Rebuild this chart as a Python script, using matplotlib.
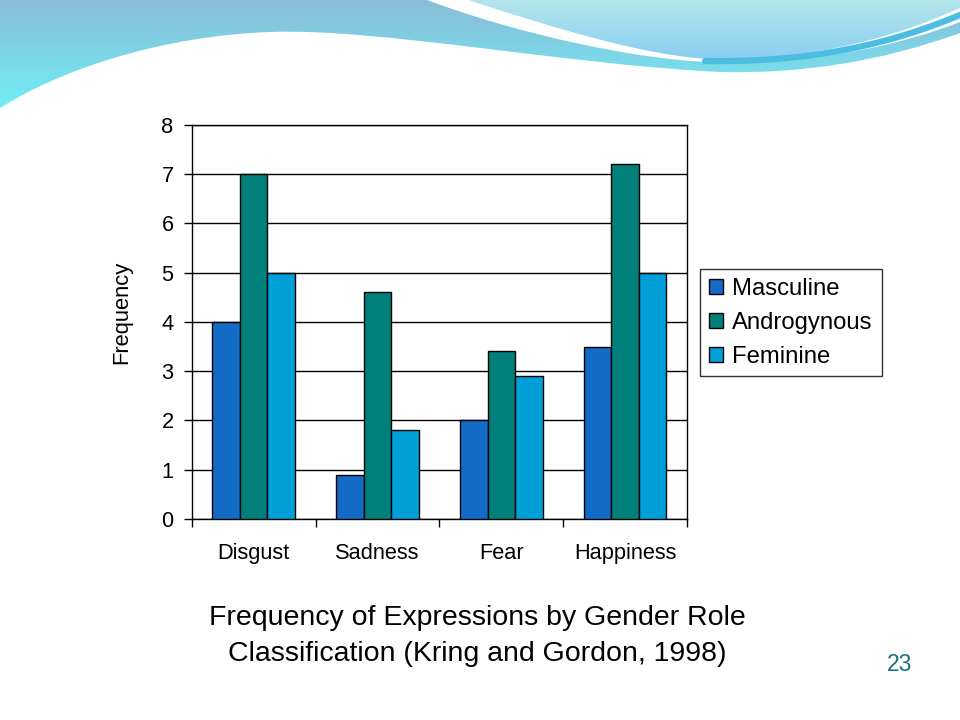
import matplotlib
matplotlib.use("Agg")
import matplotlib.pyplot as plt
import numpy as np
from matplotlib.path import Path
from matplotlib.patches import PathPatch

plt.rcParams['font.family'] = ['Liberation Sans', 'DejaVu Sans']

categories = ['Disgust', 'Sadness', 'Fear', 'Happiness']
series_names = ['Masculine', 'Androgynous', 'Feminine']
masculine = [4, 0.9, 2, 3.5]
androgynous = [7, 4.6, 3.4, 7.2]
feminine = [5, 1.8, 2.9, 5]
colors = ['#136BC6', '#007F7B', '#009FD8']

fig = plt.figure(figsize=(9.6, 7.2), dpi=100)

# decorative wave header (pixel coords)
bg = fig.add_axes([0, 0, 1, 1], zorder=-5)
bg.set_xlim(0, 960)
bg.set_ylim(720, 0)
bg.axis('off')


def grad_fill(ax, verts, codes, c_top, c_bot, y0, y1, z):
    patch = PathPatch(Path(verts, codes), facecolor='none', edgecolor='none')
    ax.add_patch(patch)
    g = np.linspace(0, 1, 256)[:, None, None]
    ct = np.array(matplotlib.colors.to_rgb(c_top))
    cb = np.array(matplotlib.colors.to_rgb(c_bot))
    img = ct * (1 - g) + cb * g
    im = ax.imshow(img, extent=[0, 960, y1, y0], aspect='auto', zorder=z)
    im.set_clip_path(patch)


C = Path.CURVE4
verts = [(0, 0), (960, 0), (960, 33),
         (880, 62), (800, 74), (720, 72),
         (560, 64), (380, 28), (270, 32),
         (160, 36), (60, 70), (0, 108),
         (0, 0)]
codes = [Path.MOVETO, Path.LINETO, Path.LINETO,
         C, C, C, C, C, C, C, C, C, Path.CLOSEPOLY]
grad_fill(bg, verts, codes, '#8ABCD7', '#70EFF7', 0, 110, 1)

verts = [(427, 0), (520, 35), (640, 60), (710, 62),
         (820, 64), (900, 45), (960, 22), (960, 0), (427, 0)]
codes = [Path.MOVETO, C, C, C, C, C, C, Path.LINETO, Path.CLOSEPOLY]
bg.add_patch(PathPatch(Path(verts, codes), facecolor='white',
                       edgecolor='none', zorder=2))

verts = [(468, 0), (560, 30), (650, 57), (712, 59),
         (820, 60), (900, 35), (960, 8), (960, 0), (468, 0)]
codes = [Path.MOVETO, C, C, C, C, C, C, Path.LINETO, Path.CLOSEPOLY]
grad_fill(bg, verts, codes, '#B3E6EC', '#8BCEF1', 0, 60, 3)

t = np.linspace(0, 1, 100)[:, None]
p0, p1, p2, p3 = [np.array(p) for p in [(705, 61), (820, 63), (900, 40), (960, 15)]]
curve = (1 - t) ** 3 * p0 + 3 * (1 - t) ** 2 * t * p1 + 3 * (1 - t) * t ** 2 * p2 + t ** 3 * p3
bg.plot(curve[:, 0], curve[:, 1], color='#4BBDE0', lw=4.5, solid_capstyle='round', zorder=4)

# chart
ax = fig.add_axes([0.1997, 0.279, 0.516, 0.548])
x = np.arange(len(categories))
w = 0.222
for i, (vals, name) in enumerate(zip([masculine, androgynous, feminine], series_names)):
    ax.bar(x + (i - 1) * w, vals, w, color=colors[i], edgecolor='black',
           linewidth=1, label=name, zorder=3)

ax.set_xlim(-0.5, len(categories) - 0.5)
ax.set_ylim(0, 8)
ax.set_yticks(range(0, 9))
ax.yaxis.grid(True, color='black', linewidth=1, zorder=0)
ax.set_xticks(x)
ax.set_xticklabels(categories, fontsize=15.7)
ax.set_xticks(np.arange(-0.5, len(categories), 1), minor=True)
ax.tick_params(axis='x', which='major', length=0, pad=17)
ax.tick_params(axis='x', which='minor', length=6, direction='out', width=1)
ax.tick_params(axis='y', labelsize=15.7, length=6, direction='out', width=1, pad=7)
for s in ax.spines.values():
    s.set_linewidth(1)
ax.set_ylabel('Frequency', fontsize=15.8)
ax.yaxis.set_label_coords(-0.1205, 0.524)

leg = ax.legend(loc='upper left', bbox_to_anchor=(1.026, 0.633), fontsize=17.2,
                frameon=True, fancybox=False, edgecolor='black',
                handlelength=0.6, handleheight=0.6, handletextpad=0.4,
                borderpad=0.36, labelspacing=0.5, borderaxespad=0)
leg.get_frame().set_linewidth(1)

fig.text(0.4975, 0.117, 'Frequency of Expressions by Gender Role\nClassification (Kring and Gordon, 1998)',
         ha='center', va='center', fontsize=20.5, linespacing=1.5)
fig.text(0.9375, 0.0765, '23', ha='center', va='center', fontsize=16.5, color='#1E7080')

fig.savefig('out.png', dpi=100)
